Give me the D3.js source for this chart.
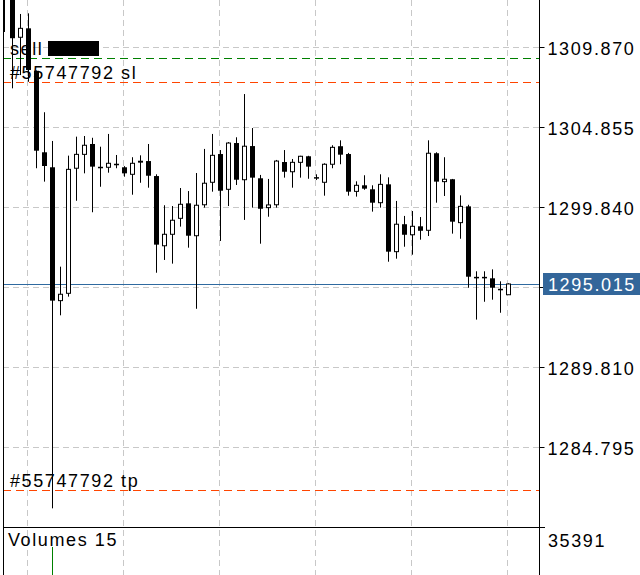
<!DOCTYPE html>
<html>
<head>
<meta charset="utf-8">
<script src="https://cdn.jsdelivr.net/npm/d3@7"></script>
<style>
  html, body { margin: 0; padding: 0; background: #fff; }
  svg { display: block; }
  text { font-family: "Liberation Sans", Arial, Helvetica, sans-serif; font-size: 18px; letter-spacing: 1.6px; fill: #000; }
</style>
</head>
<body>
<svg id="chart" width="640" height="575"></svg>
<script>
// ---- data ----
const opens  = [1314.60,1313.90,1310.48,1311.04,1308.38,1303.27,1302.33,1293.97,1294.43,1302.27,1303.14,1303.79,1302.33,1302.33,1302.52,1302.33,1301.89,1302.74,1302.72,1301.78,1297.41,1298.13,1299.13,1300.07,1298.04,1299.98,1301.39,1303.16,1300.95,1303.85,1301.55,1303.66,1301.64,1299.80,1299.98,1302.66,1302.05,1302.64,1303.02,1301.68,1301.39,1302.52,1303.65,1303.16,1300.82,1301.20,1300.95,1300.11,1301.26,1297.04,1298.76,1298.10,1298.63,1298.38,1303.21,1301.43,1301.58,1298.86,1299.88,1295.43,1295.43,1295.37,1294.68,1294.34];
const highs  = [1315.00,1314.20,1311.94,1311.98,1308.40,1305.78,1303.98,1296.10,1303.06,1304.25,1304.29,1304.18,1303.62,1304.42,1303.10,1302.40,1302.96,1303.08,1303.79,1301.89,1299.95,1299.90,1301.03,1300.84,1301.97,1303.48,1304.42,1303.41,1303.91,1304.21,1306.92,1304.79,1301.85,1301.60,1302.79,1303.41,1302.85,1303.05,1303.05,1301.89,1302.58,1303.71,1304.02,1303.23,1301.45,1301.83,1301.20,1301.89,1301.70,1300.22,1299.28,1299.59,1299.21,1304.02,1303.27,1302.96,1301.60,1300.57,1299.98,1295.81,1295.81,1295.93,1295.18,1295.06];
const lows   = [1310.81,1307.28,1308.11,1307.69,1302.27,1301.43,1280.95,1293.05,1294.22,1300.23,1301.95,1299.51,1301.11,1301.99,1302.27,1301.74,1300.61,1301.36,1301.05,1295.72,1296.52,1296.29,1298.61,1297.29,1293.46,1299.80,1300.80,1297.71,1299.90,1301.22,1299.03,1299.80,1297.54,1299.23,1299.80,1301.68,1301.05,1301.68,1301.61,1301.53,1300.55,1302.27,1302.52,1300.55,1300.49,1300.92,1299.55,1299.80,1296.41,1296.60,1297.35,1296.85,1297.79,1298.02,1300.11,1300.53,1298.17,1297.85,1294.78,1292.78,1293.90,1294.03,1293.21,1294.34];
const closes = [1313.30,1310.42,1311.04,1308.43,1303.37,1302.41,1293.97,1294.37,1302.20,1303.14,1303.71,1302.37,1302.33,1302.58,1302.52,1301.95,1302.58,1302.62,1301.80,1297.48,1298.13,1299.01,1300.01,1298.04,1299.95,1301.33,1303.08,1300.86,1303.85,1301.55,1303.65,1301.68,1299.73,1299.97,1302.72,1302.05,1302.64,1303.02,1302.37,1301.68,1302.52,1303.58,1303.12,1300.80,1301.20,1300.99,1300.11,1301.26,1297.04,1298.76,1298.10,1298.63,1298.35,1303.21,1301.43,1301.58,1298.92,1299.88,1295.47,1295.43,1295.43,1294.78,1294.68,1295.015];
const volumes = [9800,11200,8400,9100,12600,10300,28100,9600,11800,7400,6200,7900,5100,5600,4300,4800,5300,4600,6100,9700,7800,6900,6400,7300,10900,7600,8200,8700,7700,6600,9900,8300,7600,5200,7100,5800,5400,4900,5000,3600,5600,4700,5200,6800,4400,4100,5300,5900,8900,7200,5600,6300,4800,10600,7600,6100,7400,6700,9800,7900,6000,5700,5500,4200];
const priceTicks = [1309.870, 1304.855, 1299.840, 1294.825, 1289.810, 1284.795];
const volumeTicks = [35391];
const currentPrice = 1295.015;
const orderLabels = ["sell", "#55747792 sl", "#55747792 tp"];
const orderPrices = [1309.18, 1307.68, 1282.10];
const volumeLabel = "Volumes 15";

// ---- layout ----
const svg = d3.select("#chart");
const W = 640, H = 575;
const plotL = 3, plotR = 539, mainB = 527;
const volTop = 528, volBottom = 620;
const N = closes.length;

const x = d3.scaleLinear().domain([0, N - 1]).range([4.5, 508.5]);
const y = d3.scaleLinear().domain([1284.795, 1309.870]).range([447, 47]);
const yv = d3.scaleLinear().domain([0, 35391]).range([volBottom, volTop]);

const defs = svg.append("defs");
defs.append("clipPath").attr("id", "clipMain").append("rect")
  .attr("x", plotL + 0.5).attr("y", 0).attr("width", plotR - plotL).attr("height", mainB);
defs.append("clipPath").attr("id", "clipVol").append("rect")
  .attr("x", plotL + 0.5).attr("y", volTop).attr("width", plotR - plotL).attr("height", H - volTop);

const gridColor = "#c8c8c8";
// vertical grid lines every 12 bars
const vIdx = d3.range(N - 1, -1, -12);
svg.append("g").selectAll("line").data(vIdx).join("line")
  .attr("x1", d => Math.floor(x(d)) - 0.5).attr("x2", d => Math.floor(x(d)) - 0.5)
  .attr("y1", 0).attr("y2", H)
  .attr("stroke", gridColor).attr("stroke-dasharray", "6,4");
// horizontal grid lines
svg.append("g").selectAll("line").data(priceTicks).join("line")
  .attr("x1", plotL).attr("x2", plotR)
  .attr("y1", d => Math.round(y(d)) + 0.5).attr("y2", d => Math.round(y(d)) + 0.5)
  .attr("stroke", gridColor).attr("stroke-dasharray", "6,4");

// current price line
svg.append("line").attr("x1", plotL).attr("x2", plotR)
  .attr("y1", Math.round(y(currentPrice)) + 0.5).attr("y2", Math.round(y(currentPrice)) + 0.5)
  .attr("stroke", "#2f6aa0").attr("stroke-width", 1);

// order lines
const orderColors = ["#008000", "#ff4500", "#ff4500"];
svg.append("g").selectAll("line").data(orderPrices).join("line")
  .attr("x1", plotL).attr("x2", plotR)
  .attr("y1", d => Math.round(y(d)) + 0.5).attr("y2", d => Math.round(y(d)) + 0.5)
  .attr("stroke", (d, i) => orderColors[i]).attr("stroke-dasharray", "8,5");

// candles
const cg = svg.append("g").attr("clip-path", "url(#clipMain)");
const bars = d3.range(N);
cg.selectAll("line.wick").data(bars).join("line").attr("class", "wick")
  .attr("x1", i => x(i)).attr("x2", i => x(i))
  .attr("y1", i => y(highs[i])).attr("y2", i => y(lows[i]))
  .attr("stroke", "#000").attr("stroke-width", 1);
bars.forEach(i => {
  const yo = y(opens[i]), yc = y(closes[i]);
  const top = Math.min(yo, yc), bot = Math.max(yo, yc);
  const cx = x(i);
  if (bot - top < 1.2) {
    cg.append("rect").attr("x", cx - 2.5).attr("y", top - 0.5).attr("width", 5).attr("height", Math.max(bot - top, 1.5))
      .attr("fill", "#000");
  } else if (closes[i] < opens[i]) {
    cg.append("rect").attr("x", cx - 2.5).attr("y", top).attr("width", 5).attr("height", bot - top)
      .attr("fill", "#000");
  } else {
    cg.append("rect").attr("x", cx - 2).attr("y", top).attr("width", 4).attr("height", bot - top)
      .attr("fill", "#fff").attr("stroke", "#000").attr("stroke-width", 1);
  }
});

// volumes
svg.append("g").attr("clip-path", "url(#clipVol)").selectAll("line").data(bars).join("line")
  .attr("x1", i => x(i)).attr("x2", i => x(i))
  .attr("y1", i => yv(volumes[i])).attr("y2", volBottom)
  .attr("stroke", "#008000").attr("stroke-width", 1);

// frame
svg.append("line").attr("x1", plotL + 0.5).attr("x2", plotL + 0.5).attr("y1", 0).attr("y2", H).attr("stroke", "#000");
svg.append("line").attr("x1", plotR + 0.5).attr("x2", plotR + 0.5).attr("y1", 0).attr("y2", H).attr("stroke", "#000");
svg.append("line").attr("x1", plotL).attr("x2", plotR + 6).attr("y1", mainB + 0.5).attr("y2", mainB + 0.5).attr("stroke", "#000");

// right price axis (the label under the current-price box is hidden, as in the reference)
const cpY = Math.round(y(currentPrice));
const hidden = d => Math.abs(y(d) - cpY) < 14;
const axisG = svg.append("g").attr("transform", `translate(${plotR + 0.5},0)`);
const yAxis = d3.axisRight(y).tickValues(priceTicks).tickSize(5).tickPadding(3)
  .tickFormat(d => hidden(d) ? "" : d3.format(".3f")(d));
axisG.call(yAxis);
axisG.select(".domain").remove();
axisG.selectAll(".tick line").attr("stroke", "#000");
axisG.selectAll(".tick text").attr("font-size", null).attr("font-family", null)
  .attr("dy", "0.4em").attr("fill", "#000");

// volume axis label
svg.append("text").attr("x", 548).attr("y", 547).text(d3.format("d")(volumeTicks[0]));
svg.append("text").attr("x", 8).attr("y", 546).text(volumeLabel);

// current price label
svg.append("rect").attr("x", 543).attr("y", cpY - 11).attr("width", 97).attr("height", 22).attr("fill", "#33669a");
svg.append("text").attr("x", 548).attr("y", cpY + 7).attr("fill", "#fff").style("fill", "#fff")
  .text(d3.format(".3f")(currentPrice));

// order labels
svg.append("g").selectAll("text").data(orderPrices).join("text")
  .attr("x", 10).attr("y", d => Math.round(y(d)) - 3)
  .text((d, i) => orderLabels[i]);
// redacted box next to "sell"
svg.append("rect").attr("x", 48).attr("y", 41).attr("width", 51).attr("height", 15).attr("fill", "#000");
</script>
</body>
</html>
